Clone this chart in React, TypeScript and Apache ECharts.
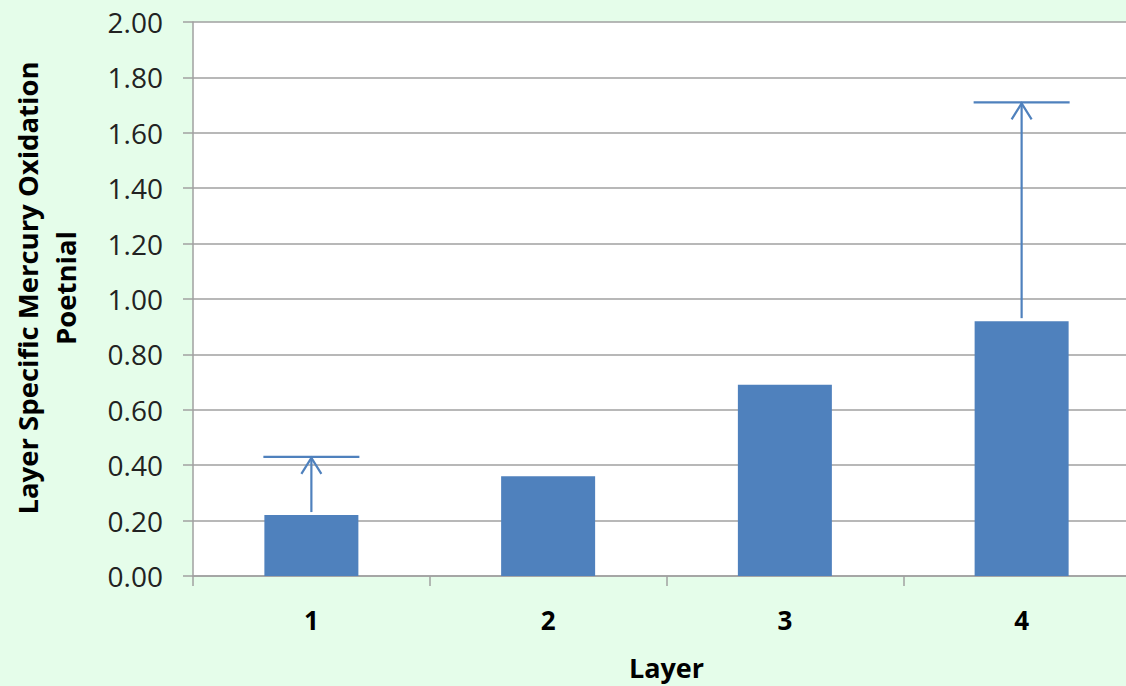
import React, { useEffect, useRef } from "react";
import * as echarts from "echarts";

const categories = ["1", "2", "3", "4"];
const barValues = [0.22, 0.36, 0.69, 0.92];
const errorUpper: (number | null)[] = [0.43, null, null, 1.71];
const yTicks = { min: 0, max: 2, interval: 0.2 };

const BLUE = "#4f81bd";
const BG = "#e5fdea";
const FONT = "'Open Sans', 'Liberation Sans', sans-serif";

export default function App() {
  const ref = useRef<HTMLDivElement>(null);
  useEffect(() => {
    if (!ref.current) return;
    const chart = echarts.init(ref.current, undefined, { renderer: "svg" });
    const errData = errorUpper
      .map((e, i) => (e == null ? null : [i, barValues[i], e]))
      .filter((d) => d != null);
    chart.setOption({
      animation: false,
      backgroundColor: BG,
      grid: {
        left: 193,
        top: 22,
        height: 554,
        width: 947,
        containLabel: false,
        outerBoundsMode: "none",
        show: true,
        backgroundColor: "#ffffff",
        borderWidth: 0,
      },
      xAxis: {
        type: "category",
        data: categories,
        boundaryGap: true,
        axisLine: { show: true, lineStyle: { color: "#a0a0a0", width: 1.5 } },
        axisTick: { show: true, length: 10, lineStyle: { color: "#a0a0a0", width: 1.5 } },
        axisLabel: { fontFamily: FONT, fontWeight: "bold", fontSize: 26, color: "#000", margin: 31 },
        name: "Layer",
        nameLocation: "middle",
        nameGap: 78,
        nameTextStyle: { fontFamily: FONT, fontWeight: "bold", fontSize: 27, color: "#000" },
      },
      yAxis: {
        type: "value",
        min: yTicks.min,
        max: yTicks.max,
        interval: yTicks.interval,
        axisLine: { show: true, lineStyle: { color: "#a0a0a0", width: 1.5 } },
        axisTick: { show: true, length: 10, lineStyle: { color: "#a0a0a0", width: 1.5 } },
        splitLine: { show: true, lineStyle: { color: "#a0a0a0", width: 1.5 } },
        axisLabel: {
          fontFamily: FONT,
          fontSize: 28,
          color: "#222",
          margin: 30,
          formatter: (v: number) => v.toFixed(2),
        },
      },
      graphic: [
        {
          type: "text",
          x: 46,
          y: 288,
          rotation: Math.PI / 2,
          style: {
            text: "Layer Specific Mercury Oxidation\nPoetnial",
            fontFamily: FONT,
            fontWeight: "bold",
            fontSize: 27.5,
            lineHeight: 38,
            fill: "#000",
            align: "center",
            verticalAlign: "middle",
          },
        },
      ],
      series: [
        {
          type: "bar",
          data: barValues,
          barWidth: 94,
          itemStyle: { color: BLUE },
        },
        {
          type: "custom",
          data: errData,
          encode: { x: 0, y: 2 },
          renderItem: (params: any, api: any) => {
            const idx = api.value(0);
            const top = api.coord([idx, api.value(2)]);
            const base = api.coord([idx, api.value(1)]);
            const x = top[0];
            const yT = top[1];
            const yB = base[1] - 3;
            const style = { stroke: BLUE, lineWidth: 2.2, fill: "none" };
            return {
              type: "group",
              children: [
                { type: "line", shape: { x1: x, y1: yB, x2: x, y2: yT }, style },
                { type: "polyline", shape: { points: [[x - 10, yT + 17], [x, yT + 1], [x + 10, yT + 17]] }, style },
                { type: "line", shape: { x1: x - 48, y1: yT, x2: x + 48, y2: yT }, style },
              ],
            };
          },
          z: 5,
        },
      ],
    });
    return () => chart.dispose();
  }, []);
  return (
    <div
      ref={ref}
      style={{ position: "fixed", left: 0, top: 0, width: 1126, height: 686 }}
    />
  );
}
